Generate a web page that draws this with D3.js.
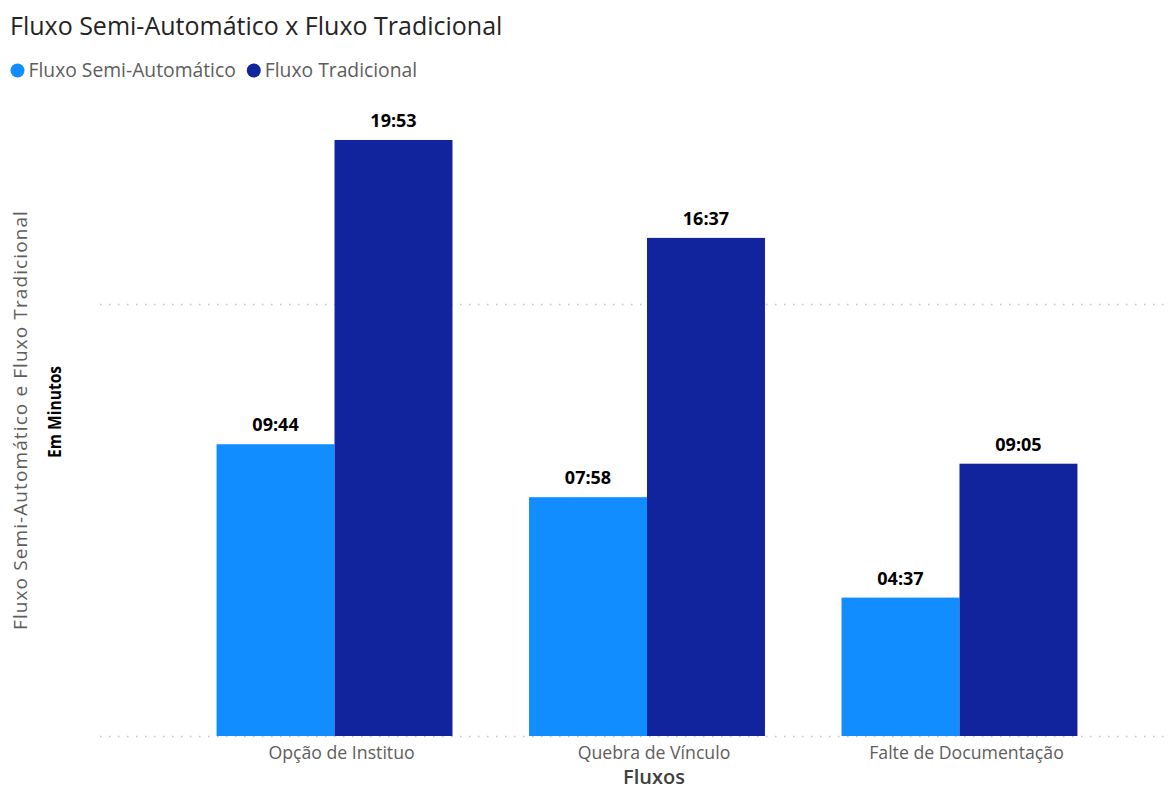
<!DOCTYPE html>
<html>
<head>
<meta charset="utf-8">
<script src="https://cdn.jsdelivr.net/npm/d3@7"></script>
<style>
  html, body { margin: 0; padding: 0; background: #fff; }
  svg { display: block; }
</style>
</head>
<body>
<svg id="chart" width="1171" height="790"></svg>
<script>
// ---- data ----
const categories = ["Opção de Instituo", "Quebra de Vínculo", "Falte de Documentação"];
const seriesNames = ["Fluxo Semi-Automático", "Fluxo Tradicional"];
const semiAutomatico = ["09:44", "07:58", "04:37"];
const tradicional = ["19:53", "16:37", "09:05"];
const gridTicks = [0, 864]; // seconds (0 and 0.01 day)
const colors = ["#118DFF", "#12239E"];

const toSec = s => { const [m, ss] = s.split(":").map(Number); return m * 60 + ss; };
const seriesData = [semiAutomatico, tradicional];

const svg = d3.select("#chart");
const baseY = 736, topY = 111;
const FONT = "'Open Sans', sans-serif";

const x0 = d3.scaleBand().domain(categories).range([140, 1154]).paddingInner(0.245).paddingOuter(0.245);
const x1 = d3.scaleBand().domain(seriesNames).range([0, x0.bandwidth()]);
const y = d3.scaleLinear().domain([0, 1251]).range([baseY, topY]);

// title
svg.append("text").attr("x", 10).attr("y", 35)
  .attr("font-family", FONT).attr("font-size", 25)
  .attr("fill", "#252423").text("Fluxo Semi-Automático x Fluxo Tradicional");

// legend
const legend = svg.append("g");
let lx = 17.5;
seriesNames.forEach((n, i) => {
  legend.append("circle").attr("cx", lx).attr("cy", 70.5).attr("r", 7).attr("fill", colors[i]);
  const t = legend.append("text").attr("x", lx + 11).attr("y", 77)
    .attr("font-family", FONT).attr("font-size", 19.3)
    .attr("fill", "#605E5C").text(n);
  lx = lx + 11 + t.node().getComputedTextLength() + 18;
});

// gridlines
svg.append("g").selectAll("line").data(gridTicks).join("line")
  .attr("x1", 100).attr("x2", 1166)
  .attr("y1", d => Math.round(y(d)) + 0.5).attr("y2", d => Math.round(y(d)) + 0.5)
  .attr("stroke", "#C8C6C4").attr("stroke-width", 1.5).attr("stroke-dasharray", "1.5,7.5");

// bars
const groups = svg.append("g").selectAll("g").data(categories).join("g")
  .attr("transform", d => `translate(${x0(d)},0)`);
const cells = (d, ci) => seriesNames.map((s, si) => ({s, si, v: seriesData[si][ci]}));
groups.selectAll("rect").data(cells).join("rect")
  .attr("x", d => x1(d.s)).attr("width", x1.bandwidth())
  .attr("y", d => y(toSec(d.v))).attr("height", d => baseY - y(toSec(d.v)))
  .attr("fill", d => colors[d.si]);
groups.selectAll("text").data(cells).join("text")
  .attr("x", d => x1(d.s) + x1.bandwidth() / 2).attr("y", d => y(toSec(d.v)) - 13)
  .attr("text-anchor", "middle")
  .attr("font-family", FONT).attr("font-weight", "bold").attr("font-size", 18)
  .attr("fill", "#000").text(d => d.v);

// x axis labels
const xAxis = d3.axisBottom(x0).tickSize(0).tickPadding(0);
const gx = svg.append("g").attr("transform", `translate(0,${baseY})`).call(xAxis);
gx.select(".domain").remove();
gx.selectAll("text").attr("dy", 0).attr("y", 23).attr("x", 7)
  .attr("font-family", FONT).attr("font-size", 17.7).attr("fill", "#605E5C");

svg.append("text").attr("x", 654).attr("y", 784).attr("text-anchor", "middle")
  .attr("font-family", FONT).attr("font-size", 20).attr("font-weight", 600)
  .attr("fill", "#404040").text("Fluxos");

// y axis titles
svg.append("text").attr("transform", "translate(27,420) rotate(-90)").attr("text-anchor", "middle")
  .attr("font-family", FONT).attr("font-size", 19).attr("letter-spacing", 1.1)
  .attr("fill", "#605E5C").text("Fluxo Semi-Automático e Fluxo Tradicional");
svg.append("text").attr("transform", "translate(61,412) rotate(-90)").attr("text-anchor", "middle")
  .attr("font-family", FONT).attr("font-size", 17.5).attr("font-weight", "bold")
  .attr("textLength", 92).attr("lengthAdjust", "spacingAndGlyphs")
  .attr("fill", "#000").text("Em Minutos");
</script>
</body>
</html>
